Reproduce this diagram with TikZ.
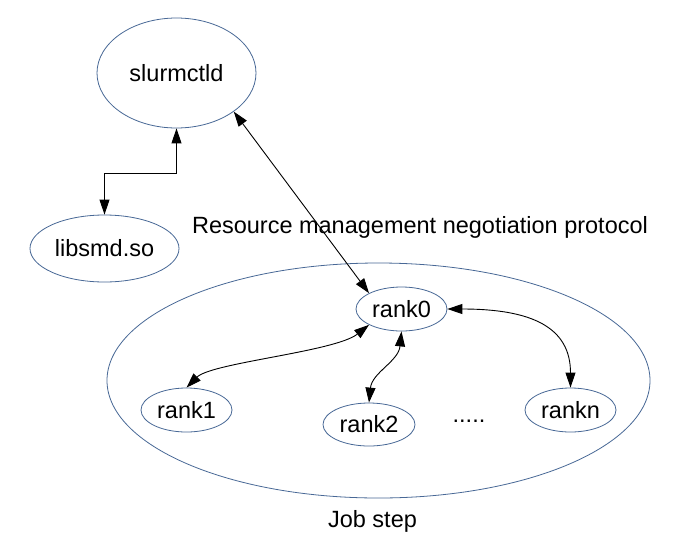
\documentclass[tikz,border=0pt]{standalone}
\usepackage{fontspec}
\setmainfont{Liberation Sans}
\usetikzlibrary{arrows.meta,shapes.geometric}
\definecolor{edgeblue}{RGB}{72,104,150}
\begin{document}
\begin{tikzpicture}[x=1pt,y=-1pt,
  ell/.style={ellipse,draw=edgeblue,line width=0.8pt,inner sep=0pt,font=\fontsize{23.5}{27}\selectfont},
  lbl/.style={font=\fontsize{23.5}{27}\selectfont,inner sep=0pt},
  arr/.style={{Triangle[length=15pt,width=10pt]}-{Triangle[length=15pt,width=10pt]},line width=0.9pt,black}]
\useasboundingbox[fill=white] (0,0) rectangle (673,542);
\node[ell,minimum width=543pt,minimum height=235pt] (job) at (378.5,380.5) {};
\node[ell,minimum width=159pt,minimum height=110pt] (s) at (176.5,73) {slurmctld};
\node[ell,minimum width=149pt,minimum height=67pt] (l) at (104.5,248.5) {libsmd.so};
\node[ell,minimum width=91pt,minimum height=44pt] (r0) at (401.5,309) {rank0};
\node[ell,minimum width=91pt,minimum height=44pt] (r1) at (186.5,410) {rank1};
\node[ell,minimum width=92pt,minimum height=43pt] (r2) at (369,424.5) {rank2};
\node[ell,minimum width=91pt,minimum height=44pt] (rn) at (570.5,410) {rankn};
\node[lbl,anchor=base] (proto) at (420,233) {Resource management negotiation protocol};
\node[lbl,anchor=base] (dots) at (469,422) {.....};
\node[lbl,anchor=base] (jobl) at (372.5,527) {Job step};
\draw[arr] (s.south) -- ++(0,45) -| (l.north);
\draw[arr] (s.-34) -- (r0.154);
\draw[arr] (r0.206) .. controls +(-34,27) and +(25,-25) .. (r1.north);
\draw[arr] (r0.south) .. controls +(-3,30) and +(3,-30) .. (r2.north);
\draw[arr] (r0.east) .. controls +(85,0) and +(0,-60) .. (rn.north);
\end{tikzpicture}
\end{document}
